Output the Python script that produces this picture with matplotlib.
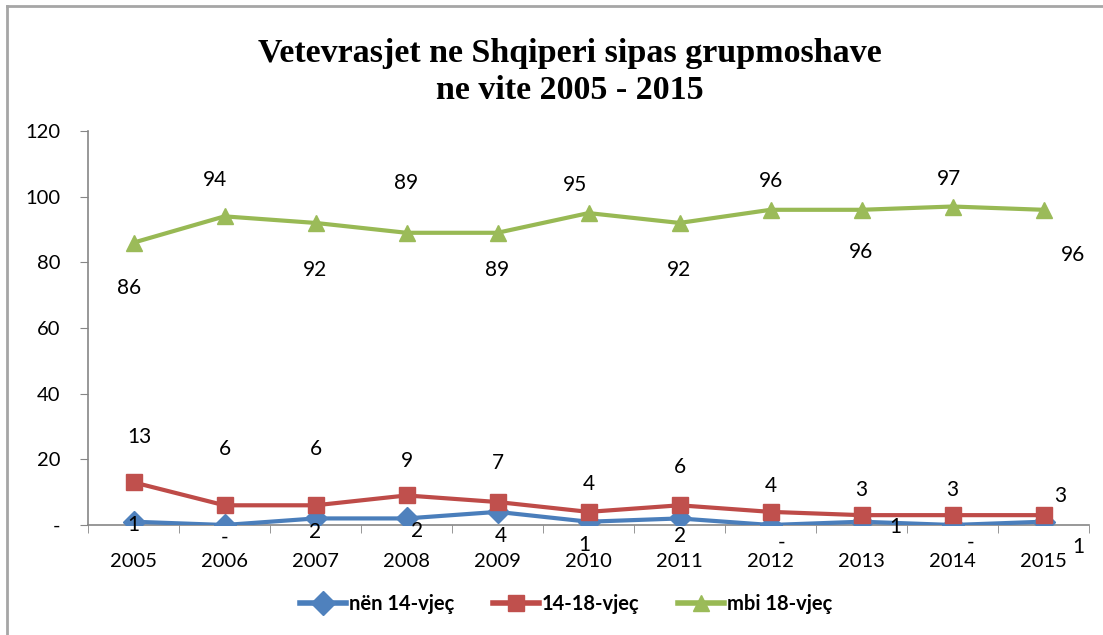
import matplotlib.pyplot as plt
from matplotlib.lines import Line2D

# data
years = ['2005', '2006', '2007', '2008', '2009', '2010', '2011', '2012', '2013', '2014', '2015']
nen_14 = [1, 0, 2, 2, 4, 1, 2, 0, 1, 0, 1]
mosha_14_18 = [13, 6, 6, 9, 7, 4, 6, 4, 3, 3, 3]
mbi_18 = [86, 94, 92, 89, 89, 95, 92, 96, 96, 97, 96]
series_names = ['nën 14-vjeç', '14-18-vjeç', 'mbi 18-vjeç']
y_ticks = [0, 20, 40, 60, 80, 100, 120]

# label offsets in pixels (dx, dy), dy positive = up
off_blue = [(0, -3), (0, -13), (0, -14), (11, -13), (3, -24), (-4, -23), (1, -18), (11, -18), (34, -5), (18, -18), (35, -25)]
off_red = [(6, 45), (0, 56), (0, 56), (0, 34), (0, 39), (0, 28), (0, 38), (0, 26), (0, 25), (0, 25), (17, 19)]
off_green = [(-4, -45), (-10, 36), (0, -47), (0, 50), (0, -37), (-14, 28), (0, -47), (0, 29), (0, -42), (-3, 28), (29, -45)]

plt.rcParams['font.family'] = ['Lato', 'DejaVu Sans']

fig = plt.figure(figsize=(11.03, 6.35), dpi=100)
ax = fig.add_axes([88 / 1103, 1 - 525 / 635, 1001 / 1103, 394 / 635])

x = list(range(len(years)))
ax.plot(x, nen_14, color='#4A7EBB', lw=3, marker='D', ms=11, mfc='#4F81BD', mec='#4F81BD', label=series_names[0], zorder=3)
ax.plot(x, mosha_14_18, color='#BE4B48', lw=3, marker='s', ms=12, mfc='#C0504D', mec='#C0504D', label=series_names[1], zorder=3)
ax.plot(x, mbi_18, color='#98B954', lw=3, marker='^', ms=12, mfc='#9BBB59', mec='#9BBB59', label=series_names[2], zorder=3)

for vals, offs in [(nen_14, off_blue), (mosha_14_18, off_red), (mbi_18, off_green)]:
    for i, v in enumerate(vals):
        txt = '-' if v == 0 else str(v)
        ax.annotate(txt, (i, v), xytext=offs[i], textcoords='offset pixels',
                    ha='center', va='center', fontsize=15, color='black', zorder=4)

ax.set_xlim(-0.5, len(years) - 0.5)
ax.set_ylim(0, 120)
ax.set_xticks(x)
ax.set_xticklabels(years)
ax.set_xticks([i - 0.5 for i in range(len(years) + 1)], minor=True)
ax.tick_params(axis='x', which='major', length=0, pad=20, labelsize=14.5)
ax.tick_params(axis='x', which='minor', length=6, color='#868686', direction='out')
ax.set_yticks(y_ticks)
ax.set_yticklabels(['-' if t == 0 else str(t) for t in y_ticks])
ax.tick_params(axis='y', length=6, color='#868686', pad=14, labelsize=14.5)

for s in ['top', 'right']:
    ax.spines[s].set_visible(False)
for s in ['left', 'bottom']:
    ax.spines[s].set_color('#868686')
    ax.spines[s].set_linewidth(1.2)
ax.patch.set_alpha(0)

fig.text(570 / 1103, 1 - 72 / 635, 'Vetevrasjet ne Shqiperi sipas grupmoshave\nne vite 2005 - 2015',
         ha='center', va='center', fontsize=24.5, fontweight='bold', family='Liberation Serif', linespacing=1.25)

leg = fig.legend(loc='center', bbox_to_anchor=(566 / 1103, 1 - 604 / 635), ncol=3, frameon=False,
                 prop={'weight': 'bold', 'size': 14.5}, handlelength=2.3, columnspacing=1.9, handletextpad=0.15)
for h in leg.legend_handles:
    h.set_markersize(12)
    h.set_linewidth(4)

# outer frame (cropped screenshot border)
fig.add_artist(Line2D([7 / 1103, 7 / 1103], [0, 1 - 6 / 635], transform=fig.transFigure, color='#a6a6a6', lw=2))
fig.add_artist(Line2D([7 / 1103, 1], [1 - 6 / 635, 1 - 6 / 635], transform=fig.transFigure, color='#a6a6a6', lw=2))

fig.savefig('out.png', dpi=100)
